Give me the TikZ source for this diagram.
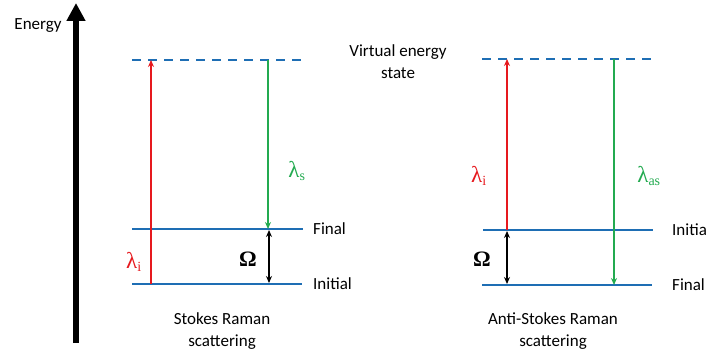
\documentclass[tikz,border=0pt]{standalone}
\usepackage{fontspec}
\setmainfont{Carlito}
\newfontfamily\grk{Liberation Serif}
\usetikzlibrary{arrows.meta}
\definecolor{lvlblue}{RGB}{30,110,180}
\definecolor{phred}{RGB}{230,25,30}
\definecolor{phgreen}{RGB}{35,170,80}
\tikzset{
  level/.style={draw=lvlblue, line width=2pt},
  virt/.style={draw=lvlblue, line width=2pt, dash pattern=on 9pt off 7pt},
  upph/.style={draw=phred, line width=1.5pt, -{Stealth[length=7pt,width=6pt]}},
  downph/.style={draw=phgreen, line width=1.5pt, -{Stealth[length=7pt,width=6pt]}},
  gap/.style={draw=black, line width=1.5pt, {Stealth[length=7pt,width=6pt]}-{Stealth[length=7pt,width=6pt]}},
  txt/.style={inner sep=0pt, font=\fontsize{17}{22}\selectfont, align=center},
  lam/.style={inner sep=0pt, font=\grk\fontsize{23}{26}\selectfont},
  omg/.style={inner sep=0pt, font=\grk\bfseries\fontsize{22}{26}\selectfont},
}
\begin{document}
\begin{tikzpicture}[x=1pt,y=-1pt]
\useasboundingbox (0,0) rectangle (709,353);
% energy axis
\coordinate (ebot) at (76,343);
\coordinate (etop) at (76,3);
\draw[line width=6pt, -{Triangle[length=18pt,width=18pt]}] (ebot) -- (etop);
\node[txt] (energy) at (38,26) {Energy};
% ---- Stokes ----
\coordinate (sv1) at (132,60); \coordinate (sv2) at (305,60);
\coordinate (sf1) at (132,229); \coordinate (sf2) at (303,229);
\coordinate (si1) at (132,284); \coordinate (si2) at (302,284);
\draw[virt] (sv1) -- (sv2);
\draw[level] (sf1) -- (sf2);
\draw[level] (si1) -- (si2);
\coordinate (sr0) at (151,284); \coordinate (sr1) at (151,60);
\draw[upph] (sr0) -- (sr1);
\coordinate (sg0) at (268,60); \coordinate (sg1) at (268,229);
\draw[downph] (sg0) -- (sg1);
\coordinate (so0) at (269,230); \coordinate (so1) at (269,283);
\draw[gap] (so0) -- (so1);
\node[lam, text=phgreen] (lams) at (297,171) {λ\textsubscript{\fontsize{14}{14}\selectfont s}};
\node[lam, text=phred] (lami1) at (134,262) {λ\textsubscript{\fontsize{14}{14}\selectfont i}};
\node[omg] (om1) at (248,259) {Ω};
\node[txt, anchor=west] (fin1) at (313,229) {Final};
\node[txt, anchor=west] (ini1) at (313,284) {Initial};
\node[txt] (virtual) at (398,62) {Virtual energy\\state};
\node[txt] (stokes) at (222,331) {Stokes Raman\\scattering};
% ---- Anti-Stokes ----
\coordinate (av1) at (482,59); \coordinate (av2) at (653,59);
\coordinate (ai1) at (483,230); \coordinate (ai2) at (653,230);
\coordinate (af1) at (482,285); \coordinate (af2) at (652,285);
\draw[virt] (av1) -- (av2);
\draw[level] (ai1) -- (ai2);
\draw[level] (af1) -- (af2);
\coordinate (ar0) at (507,230); \coordinate (ar1) at (507,59);
\draw[upph] (ar0) -- (ar1);
\coordinate (ag0) at (614,59); \coordinate (ag1) at (614,285);
\draw[downph] (ag0) -- (ag1);
\coordinate (ao0) at (507,231); \coordinate (ao1) at (507,284);
\draw[gap] (ao0) -- (ao1);
\node[lam, text=phred] (lami2) at (479,176) {λ\textsubscript{\fontsize{14}{14}\selectfont i}};
\node[lam, text=phgreen] (lamas) at (649,176) {λ\textsubscript{\fontsize{14}{14}\selectfont as}};
\node[omg] (om2) at (482,259) {Ω};
\node[txt, anchor=west] (ini2) at (672,230) {Initia};
\node[txt, anchor=west] (fin2) at (672,285) {Final};
\node[txt] (antistokes) at (553,331) {Anti-Stokes Raman\\scattering};
\end{tikzpicture}
\end{document}
